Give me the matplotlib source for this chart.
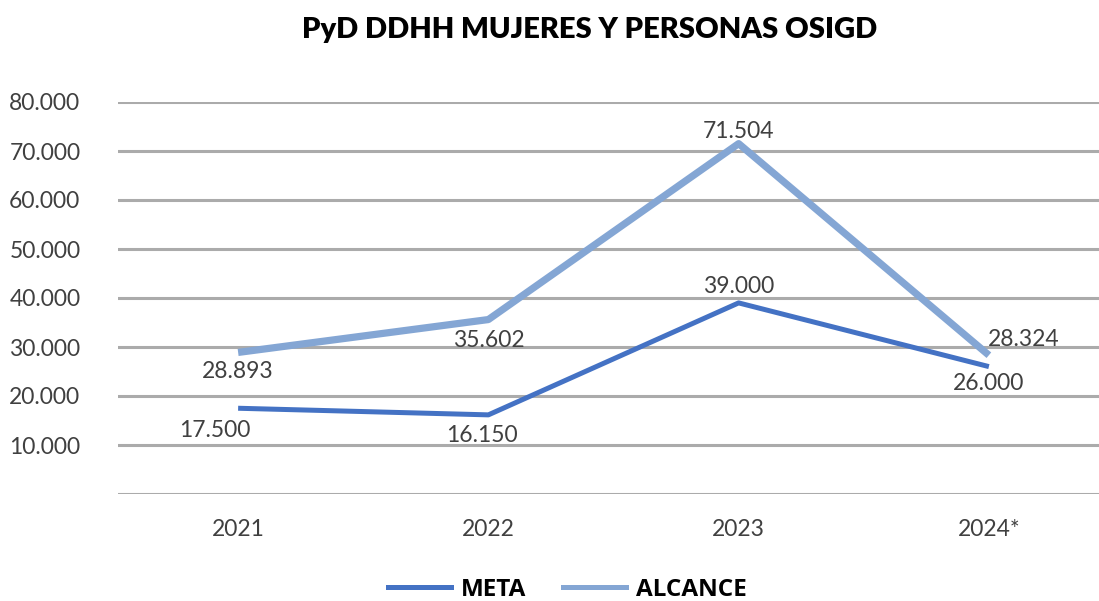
import numpy as np
import matplotlib.pyplot as plt
from matplotlib.ticker import FuncFormatter

# Datos
anios = ['2021', '2022', '2023', '2024*']
meta = [17500, 16150, 39000, 26000]
alcance = [28893, 35602, 71504, 28324]

color_meta = '#4472C4'
color_alcance = '#84A6D4'
gris_texto = '#404040'


def miles(v):
    return f'{int(round(v)):,}'.replace(',', '.')


fig = plt.figure(figsize=(10.99, 6.01), dpi=100)
ax = fig.add_axes([118 / 1099, 1 - 494 / 601, 1 - 118 / 1099, (494 - 102) / 601])

x = np.arange(len(anios))
ax.plot(x, meta, color=color_meta, lw=3.6, solid_capstyle='butt', zorder=3)
ax.plot(x, alcance, color=color_alcance, lw=5.2, solid_capstyle='butt', zorder=3)

ax.set_ylim(0, 80000)
ax.set_xlim(-0.48, 3.44)
ax.set_yticks(np.arange(0, 80001, 10000))
ax.yaxis.set_major_formatter(FuncFormatter(lambda v, p: '' if v == 0 else miles(v)))
ax.set_xticks(x)
ax.set_xticklabels(anios)
ax.grid(axis='y', color='#ABABAB', lw=2.2)
ax.set_axisbelow(True)
for s in ax.spines.values():
    s.set_visible(False)
ax.tick_params(length=0, labelsize=16.5, labelcolor=gris_texto)
ax.tick_params(axis='y', pad=27)
ax.tick_params(axis='x', pad=18)
for lb in ax.get_xticklabels() + ax.get_yticklabels():
    lb.set_fontfamily('Lato')

# Etiquetas de datos (desplazamientos en puntos)
off_meta = [(-17, -16), (-5, -15), (0, 12), (0, -12)]
off_alc = [(0, -14), (0, -15), (0, 9), (25, 11)]
for xi, v, o in zip(x, meta, off_meta):
    ax.annotate(miles(v), (xi, v), xytext=o, textcoords='offset points',
                ha='center', va='center', fontsize=16.5, color=gris_texto, family='Lato')
for xi, v, o in zip(x, alcance, off_alc):
    ax.annotate(miles(v), (xi, v), xytext=o, textcoords='offset points',
                ha='center', va='center', fontsize=16.5, color=gris_texto, family='Lato')

fig.text(590 / 1099, 1 - 30 / 601, 'PyD DDHH MUJERES Y PERSONAS OSIGD', ha='center', va='center',
         fontsize=21, fontweight='heavy', family='Lato', color='black')

ax.plot([], [], color=color_meta, lw=3.6, label='META')
ax.plot([], [], color=color_alcance, lw=3.6, label='ALCANCE')
h, l = ax.get_legend_handles_labels()
fig.legend(h[-2:], l[-2:], loc='center', bbox_to_anchor=(0.516, 1 - 590 / 601), ncol=2,
           frameon=False, handlelength=2.6, handletextpad=0.4, columnspacing=1.5,
           prop={'family': 'Open Sans', 'weight': 'bold', 'size': 17.5})

fig.savefig('out.png', dpi=100)
